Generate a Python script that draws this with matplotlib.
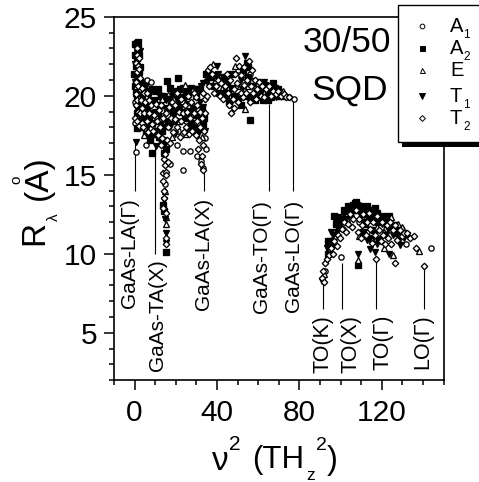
import numpy as np
import matplotlib
matplotlib.use("Agg")
import matplotlib.pyplot as plt
from matplotlib.patches import Rectangle
from matplotlib.lines import Line2D

plt.rcParams['font.family'] = ['Liberation Sans', 'DejaVu Sans']

# values, (nu^2, R)
A1 = [(0.8, 16.45), (5.5, 16.9), (20.4, 16.9), (23.6, 16.5), (26.7, 16.5), (23.6, 15.3), (6.2, 21.0), (7.8, 20.9),
      (0.2, 18.3), (0.4, 19.6), (1.4, 21.2), (2.0, 20.3), (3.2, 21.0), (4.0, 19.4), (6.4, 18.6), (8.8, 19.0),
      (11.0, 18.1), (13.0, 17.2), (15.9, 15.8), (17.2, 15.7), (14.6, 14.4), (18.2, 18.6), (21.0, 17.8), (25.0, 18.4),
      (28.0, 19.4), (30.4, 16.2), (32.0, 15.9), (33.2, 15.4), (34.2, 17.3), (34.6, 16.6),
      (36.0, 21.2), (39.0, 20.8), (43.0, 20.4), (46.5, 19.6), (50.0, 21.6), (53.0, 20.4), (56.0, 21.4), (58.5, 20.6),
      (62.0, 20.3), (66.0, 20.2), (70.0, 20.1), (73.0, 20.0), (75.0, 19.9), (77.2, 19.8),
      (143.7, 10.34), (100.2, 9.83), (92.5, 8.9), (94.5, 10.2), (97.0, 11.0), (101.0, 11.6), (105.0, 12.4), (109.0, 12.0),
      (113.0, 11.4), (118.0, 11.0), (122.0, 11.6), (126.0, 11.3), (131.9, 10.6), (128.0, 10.9)]
A2 = [(15.8, 20.95), (21.2, 21.1), (8.2, 16.4), (1.0, 23.35), (1.6, 23.0), (1.4, 22.4), (0.7, 21.9), (1.0, 21.0),
      (2.2, 21.5), (0.8, 20.2), (1.9, 19.7), (1.2, 18.9), (1.4, 17.95), (3.4, 19.9), (5.0, 20.3), (6.6, 20.3),
      (8.6, 20.4), (10.2, 20.3), (9.2, 19.7), (4.0, 18.6), (5.4, 17.6), (7.6, 17.2), (6.2, 19.3), (8.2, 18.3),
      (12.4, 19.4), (14.0, 20.0), (17.0, 20.5), (19.2, 20.3), (22.0, 20.4), (25.0, 20.3), (27.6, 20.5), (29.8, 20.0),
      (31.8, 20.4), (13.8, 17.2), (14.2, 16.4), (14.0, 13.1), (14.2, 12.7), (15.0, 10.1), (18.4, 19.0), (21.6, 19.3),
      (24.4, 18.6), (27.6, 18.3), (31.0, 18.9), (16.2, 18.4), (33.0, 18.2), (34.8, 21.4),
      (0.4, 23.3), (1.8, 23.4), (0.2, 22.6), (2.0, 22.6), (-0.2, 21.4), (0.3, 20.6), (2.8, 21.8), (3.0, 20.8),
      (1.4, 20.0), (2.4, 19.4), (3.6, 18.6), (3.0, 18.0), (4.6, 19.6), (5.8, 19.0), (7.0, 18.6), (7.0, 17.6),
      (9.6, 17.6), (10.6, 19.0), (11.2, 20.4), (12.6, 20.0), (13.2, 17.8), (15.6, 19.2), (17.6, 19.4), (19.6, 18.4),
      (20.4, 19.4), (23.0, 19.0), (23.4, 20.5), (25.8, 18.9), (26.6, 19.5), (28.8, 18.0), (29.6, 18.8), (30.6, 20.4),
      (32.6, 19.2), (32.4, 17.9), (33.8, 18.6), (12.0, 17.4), (15.0, 16.6),
      (55.9, 18.45), (37.0, 21.2), (39.6, 21.3), (42.2, 20.2), (44.4, 19.9), (45.6, 19.6), (47.2, 20.5), (50.4, 19.8),
      (52.8, 21.6), (54.5, 22.1), (56.0, 20.0), (57.8, 19.8), (59.6, 20.9), (61.0, 20.2), (63.4, 20.7), (64.8, 19.7),
      (65.8, 20.3), (67.4, 20.8), (69.4, 20.4), (71.0, 20.2),
      (38.4, 20.6), (41.0, 20.2), (43.6, 21.2), (44.8, 20.8), (46.8, 21.4), (48.4, 20.0), (51.4, 19.4), (53.8, 20.0),
      (55.0, 21.2), (58.6, 19.7), (60.4, 20.6), (62.4, 19.7), (64.0, 20.2), (66.4, 19.9), (68.2, 20.5), (70.2, 20.0),
      (72.0, 20.0), (54.8, 21.8),
      (96.9, 12.4), (108.6, 9.28), (93.7, 10.0), (95.5, 10.6), (99.0, 11.7), (100.8, 12.2), (102.6, 12.7), (104.8, 13.0),
      (106.8, 13.2), (108.4, 12.8), (110.8, 12.8), (113.0, 13.0), (115.6, 12.5), (117.6, 12.6), (119.0, 12.2), (120.6, 12.4),
      (122.6, 11.9), (124.8, 11.7), (127.0, 11.3), (129.4, 11.5), (111.0, 11.4), (114.5, 11.0), (118.5, 10.9),
      (94.0, 10.8), (97.8, 11.9), (101.8, 12.8), (103.8, 13.0), (105.8, 12.9), (107.4, 13.3), (109.6, 13.0), (111.8, 12.9),
      (114.4, 12.8), (116.6, 12.9), (118.0, 12.0), (121.6, 12.0), (123.6, 12.4), (126.0, 11.8), (128.4, 11.6), (130.4, 11.3),
      (112.0, 11.9), (116.0, 11.5)]
E = [(0.6, 20.6), (1.6, 22.1), (2.6, 20.0), (4.6, 17.5), (6.0, 17.8), (9.8, 18.4), (11.4, 19.0), (13.4, 19.8),
     (15.0, 11.9), (15.2, 12.3), (16.8, 20.2), (20.0, 20.2), (24.6, 20.7), (28.2, 20.4), (30.6, 19.2), (18.0, 17.4),
     (21.4, 18.4), (24.8, 17.6), (32.6, 17.4), (14.6, 14.0), (26.0, 19.4),
     (34.8, 21.0), (38.0, 22.0), (41.4, 21.2), (45.0, 21.3), (53.8, 19.15), (48.6, 21.9), (51.0, 20.6), (55.0, 20.6),
     (60.0, 20.8), (63.0, 20.2), (68.0, 20.1), (72.0, 20.3), (57.0, 21.0),
     (92.0, 8.7), (108.6, 9.6), (120.9, 10.4), (125.2, 9.9), (138.2, 10.2), (109.0, 11.1), (115.0, 10.9), (121.0, 11.4),
     (124.6, 12.3), (127.6, 11.9), (130.0, 11.7), (103.0, 12.2), (112.0, 12.2), (117.8, 11.7), (106.0, 12.8)]
T1 = [(0.5, 17.1), (10.2, 16.8), (0.4, 20.9), (1.2, 22.7), (1.8, 21.4), (0.9, 19.3), (2.6, 19.0), (3.8, 19.6),
      (2.8, 20.4), (4.6, 19.0), (6.4, 18.1), (7.2, 20.0), (9.4, 18.9), (11.8, 18.7), (13.0, 18.2), (14.4, 16.8),
      (15.0, 19.7), (18.2, 20.0), (20.6, 19.7), (23.2, 19.9), (26.4, 20.0), (28.8, 19.2), (32.4, 20.6), (33.4, 19.3),
      (14.4, 13.4), (15.4, 11.3), (15.2, 10.7), (14.8, 12.2), (31.0, 17.6), (26.0, 17.9), (17.0, 18.0),
      (0.0, 22.0), (1.4, 21.2), (2.4, 22.8), (3.2, 20.0), (5.4, 20.6), (5.4, 18.4), (8.2, 19.6), (8.6, 17.4),
      (10.6, 17.8), (12.2, 19.9), (14.6, 18.0), (16.6, 19.8), (19.4, 17.6), (22.2, 19.2), (24.6, 19.8), (27.2, 19.0),
      (29.4, 20.4), (31.6, 19.6), (33.0, 20.8), (34.2, 17.8),
      (35.2, 20.9), (37.4, 20.6), (40.1, 21.9), (42.8, 21.0), (46.0, 20.2), (49.0, 20.0), (51.6, 21.0), (53.8, 22.5),
      (55.4, 19.7), (58.2, 20.2), (60.6, 19.9), (62.6, 20.9), (64.8, 20.0), (66.8, 20.4), (68.8, 19.9), (40.6, 21.4),
      (36.2, 21.4), (44.0, 20.4), (52.2, 20.4), (57.2, 20.6),
      (91.0, 8.3), (108.6, 9.96), (116.9, 10.1), (114.1, 10.3), (123.6, 10.0), (129.0, 10.55), (94.8, 10.8), (96.4, 11.2),
      (98.2, 11.4), (100.4, 11.9), (102.8, 12.2), (105.6, 12.6), (107.8, 13.1), (110.0, 12.4), (112.2, 12.5), (115.0, 12.2),
      (117.0, 12.0), (120.0, 11.9), (122.0, 11.2), (125.4, 11.2), (128.2, 11.0), (113.0, 10.9), (117.4, 10.6), (132.4, 11.2),
      (93.6, 10.4), (95.4, 11.4), (97.6, 12.0), (99.4, 12.3), (101.4, 12.5), (104.0, 12.9), (106.2, 13.1), (109.0, 13.0),
      (111.0, 12.0), (113.6, 12.2), (116.0, 12.8), (118.6, 12.3), (121.0, 12.0), (123.0, 11.6), (126.2, 11.4), (130.6, 11.0)]
T2 = [(0.6, 19.4), (0.3, 18.6), (0.8, 20.1), (0.5, 20.9), (1.0, 21.5), (0.9, 22.1), (1.3, 22.6), (1.0, 23.0),
      (1.6, 21.9), (1.9, 22.4), (2.2, 21.7), (2.6, 21.1), (2.4, 20.4), (1.6, 20.6), (1.3, 19.7), (1.7, 19.0),
      (1.1, 18.4), (2.1, 18.1), (2.8, 18.9), (3.1, 19.7), (3.4, 20.5), (3.8, 19.2), (3.4, 18.3), (4.3, 18.0),
      (4.6, 18.9), (5.2, 19.6), (4.4, 20.2), (6.0, 20.2), (5.8, 18.4), (6.7, 17.7), (7.2, 18.9), (8.0, 19.4),
      (8.2, 18.2), (7.0, 19.7), (9.0, 17.8), (9.6, 18.8), (10.2, 19.5), (10.8, 18.4), (11.4, 17.5), (11.6, 19.1),
      (12.4, 18.0), (12.6, 16.9), (13.0, 19.4), (13.6, 18.6), (13.5, 17.3), (14.2, 16.0), (14.8, 15.6), (14.0, 15.1),
      (15.4, 15.2), (16.2, 15.8), (13.9, 14.6), (14.1, 14.0), (14.4, 13.5), (14.0, 12.9), (15.0, 12.6), (15.4, 11.0),
      (15.2, 10.6), (15.0, 15.0), (14.6, 16.3), (15.6, 17.2), (16.0, 18.0), (15.2, 18.9), (16.6, 19.3), (17.2, 17.0),
      (17.6, 18.6), (18.0, 19.6), (18.8, 17.7), (19.4, 18.5), (19.8, 19.4), (20.4, 20.2), (20.6, 18.0), (21.4, 19.0),
      (22.2, 17.4), (22.4, 18.4), (22.6, 19.8), (23.4, 18.9), (24.0, 17.7), (24.4, 19.4), (25.0, 18.0), (25.6, 19.0),
      (26.0, 20.0), (26.4, 17.6), (27.0, 18.6), (27.4, 19.6), (28.0, 17.8), (28.6, 18.9), (29.0, 20.2), (29.6, 17.5),
      (30.2, 18.4), (30.4, 19.4), (31.0, 16.6), (31.2, 17.2), (31.6, 18.0), (31.8, 19.0), (32.2, 15.7), (32.6, 16.2),
      (33.0, 16.9), (33.4, 15.3), (32.8, 18.6), (33.6, 17.8), (34.0, 18.9), (34.2, 19.8), (33.4, 20.2), (30.0, 19.9),
      (35.0, 20.0), (35.4, 21.6), (36.6, 21.8), (37.8, 21.4), (36.2, 20.6), (38.6, 20.2), (39.6, 20.6), (40.4, 21.0),
      (41.4, 20.0), (42.0, 20.8), (42.8, 19.8), (43.8, 20.6), (44.6, 21.4), (45.2, 20.2), (46.0, 19.4), (46.4, 21.0),
      (47.0, 18.9), (48.2, 19.2), (47.6, 19.8), (48.4, 20.4), (48.8, 21.4), (49.3, 22.4), (49.6, 20.8), (50.2, 19.6),
      (50.8, 21.9), (51.4, 20.2), (51.8, 21.3), (52.6, 19.9), (53.0, 20.7), (53.2, 21.8), (54.0, 20.2), (54.6, 21.0),
      (55.4, 22.2), (55.8, 19.6), (56.4, 20.6), (56.8, 21.6), (57.6, 20.2), (58.2, 21.0), (59.0, 19.8), (59.6, 20.4),
      (60.4, 20.9), (61.4, 20.0), (62.0, 20.6), (63.0, 19.9), (63.8, 20.4), (65.0, 20.6), (66.2, 20.0), (67.4, 20.3),
      (68.6, 20.1), (69.8, 20.3), (71.2, 20.0), (72.4, 20.1), (73.6, 19.9), (75.0, 19.9),
      (90.7, 8.44), (92.3, 9.4), (91.6, 8.9), (92.0, 8.2), (93.4, 9.7), (94.4, 9.9), (95.4, 10.4), (96.2, 10.0),
      (97.0, 10.8), (98.0, 10.5), (98.8, 11.2), (99.8, 11.0), (100.8, 11.6), (101.8, 12.0), (102.4, 11.4), (103.6, 11.9),
      (104.6, 12.5), (105.4, 11.7), (106.2, 12.2), (107.4, 12.8), (108.2, 11.4), (108.8, 12.2), (110.0, 11.0), (110.4, 11.8),
      (111.0, 12.5), (112.2, 11.2), (112.6, 12.0), (113.8, 12.6), (114.4, 11.6), (115.4, 10.7), (115.8, 12.0), (116.6, 11.2),
      (117.0, 9.66), (117.8, 12.4), (118.4, 11.5), (119.4, 10.8), (120.0, 12.0), (120.6, 11.2), (121.6, 10.6), (122.4, 11.8),
      (123.2, 11.0), (124.0, 12.0), (124.6, 10.6), (125.4, 11.5), (126.5, 9.43), (126.6, 11.8), (127.4, 10.9), (128.6, 11.5),
      (129.8, 11.1), (130.8, 11.3), (132.0, 11.3), (133.6, 11.0), (135.4, 11.1), (136.7, 10.4), (140.5, 9.24)]

# reference lines: x, y of the data end, y of the label end
line_x = [0, 9.7, 33.5, 65.1, 76.8, 91.5, 100.5, 117.3, 140.6]
line_top = [17.2, 16.8, 15.3, 19.5, 19.7, 8.2, 9.4, 9.5, 9.1]
line_bot = [14, 10, 14, 14, 14, 6.5, 6.5, 6.5, 6.5]

W, H = 479, 482
fig = plt.figure(figsize=(W / 100, H / 100), dpi=100)
ax = fig.add_axes([114 / W, 1 - 380.3 / H, (443.7 - 114) / W, (380.3 - 16.7) / H])


def px(x, y):
    return x / W, 1 - y / H


def ftext(x, y, s, size, rot=0, ha='center', va='center', **kw):
    fig.text(*px(x, y), s, fontsize=size, rotation=rot, ha=ha, va=va, color='black', **kw)


ax.vlines(line_x, line_bot, line_top, color='black', lw=0.8, zorder=1)

styles = [(A1, 'o', 'white', 3.8), (A2, 's', 'black', 4.0), (E, '^', 'white', 4.0),
          (T1, 'v', 'black', 4.6), (T2, 'D', 'white', 3.3)]
for pts, mk, fc, ms in styles:
    d = np.array(pts).T
    ax.plot(d[0], d[1], ls='none', marker=mk, mfc=fc, mec='black', mew=0.95, ms=ms, zorder=2)

ax.set_xlim(-10, 150)
ax.set_ylim(2, 25)
ax.set_xticks([0, 40, 80, 120])
ax.set_xticks(np.arange(-10, 151, 10), minor=True)
ax.set_yticks([5, 10, 15, 20, 25])
ax.set_yticks(np.arange(2, 26, 1), minor=True)
ax.tick_params(which='major', length=7.2, width=1.1, labelsize=21.5, direction='out')
ax.tick_params(which='minor', length=3.8, width=1.1, direction='out')
ax.tick_params(axis='y', which='major', pad=5)
ax.tick_params(axis='x', which='major', pad=6)
for s in ax.spines.values():
    s.set_linewidth(1.2)

# rotated phonon labels
ftext(129.5, 308, 'GaAs-LA(Γ)', 15, 90, va='bottom')
ftext(158, 371, 'GaAs-TA(X)', 15, 90, va='bottom')
ftext(203, 310, 'GaAs-LA(X)', 15, 90, va='bottom')
ftext(262, 313, 'GaAs-TO(Γ)', 15, 90, va='bottom')
ftext(294, 312, 'GaAs-LO(Γ)', 15, 90, va='bottom')
ftext(323, 373, 'TO(K)', 15.5, 90, va='bottom')
ftext(351, 373, 'TO(X)', 15.5, 90, va='bottom')
ftext(383, 370, 'TO(Γ)', 15.5, 90, va='bottom')
ftext(423, 369, 'LO(Γ)', 15.5, 90, va='bottom')

ftext(347, 43, '30/50', 25.5)
ftext(350, 90, 'SQD', 25.5)

# y label in pieces
ftext(35, 245, 'R', 24, 90, va='bottom')
ftext(54, 217, 'λ', 11, 90)
ftext(38, 200, '(A)', 24, 90, va='bottom')
ftext(16, 180, 'o', 11, 90)
# x label in pieces
ftext(220, 462, 'ν', 24)
ftext(235, 444, '2', 15)
ftext(252, 460, '(TH', 22.5, ha='left')
ftext(311, 475, 'z', 12.5)
ftext(321, 446, '2', 14)
ftext(332, 460, ')', 23.5)

# legend box
fig.add_artist(Rectangle(px(402, 146.5), 90 / W, 8 / H, transform=fig.transFigure, fc='black', ec='black', lw=0))
fig.add_artist(Rectangle(px(398.3, 142), 90 / W, 137.5 / H, transform=fig.transFigure, fc='white', ec='black', lw=1.0))
leg_names = ['A', 'A', 'E', 'T', 'T']
leg_subs = ['1', '2', '', '1', '2']
leg_y = [25.7, 48.3, 70.3, 96, 117.7]
for (pts, mk, fc, ms), n, sub, y in zip(styles, leg_names, leg_subs, leg_y):
    x0, y0 = px(422.3, y)
    fig.add_artist(Line2D([x0], [y0], transform=fig.transFigure, ls='none', marker=mk, mfc=fc, mec='black',
                          mew=0.7, ms=ms * 0.9))
    fig.text(*px(450, y + 0.5), n, fontsize=14.5, ha='left', va='center')
    if sub:
        fig.text(*px(463, y + 9), sub, fontsize=8.5, ha='left', va='center')

fig.savefig('out.png', dpi=100)
